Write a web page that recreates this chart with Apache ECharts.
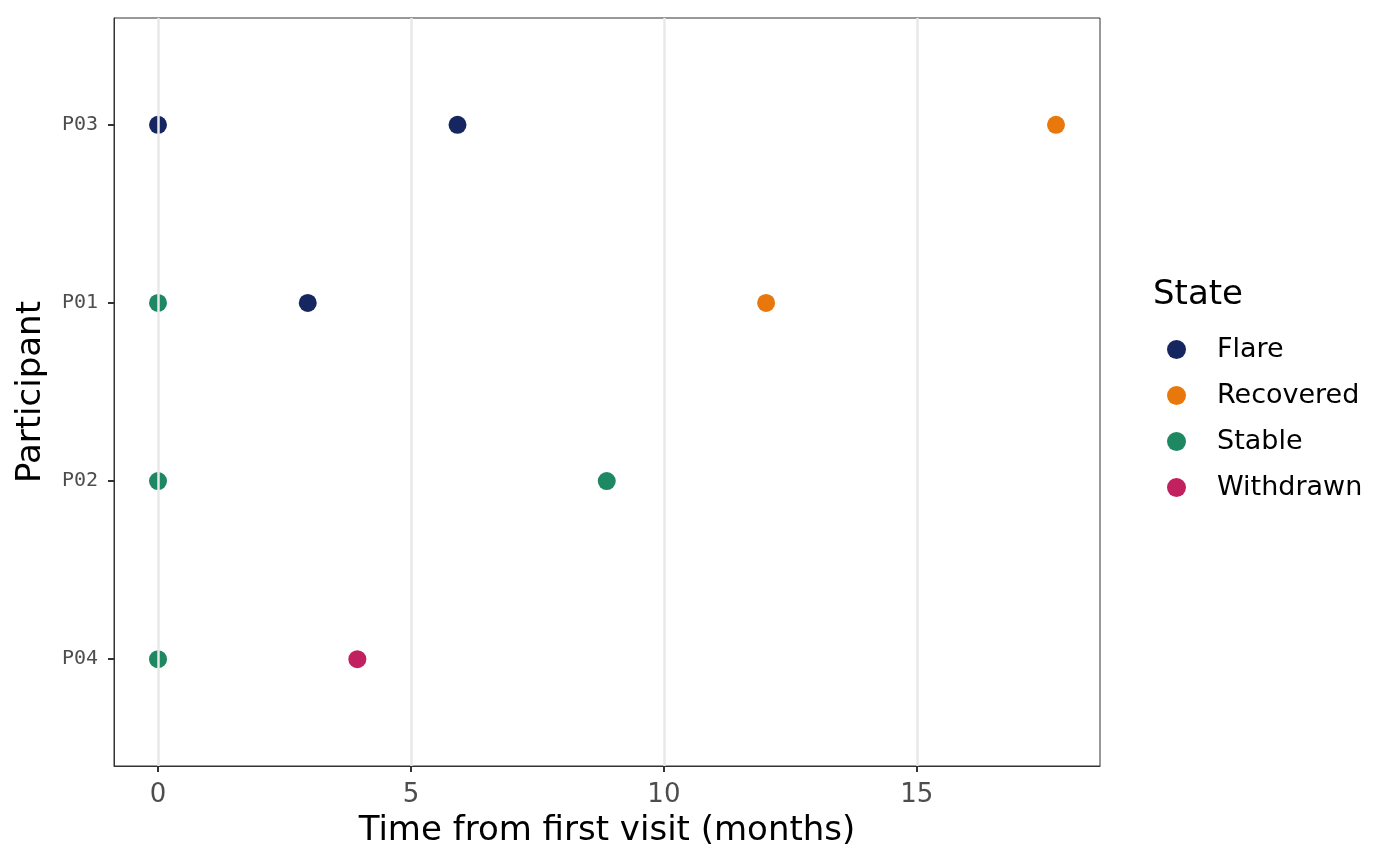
<!DOCTYPE html>
<html>
<head>
<meta charset="utf-8">
<script src="https://cdn.jsdelivr.net/npm/echarts@6/dist/echarts.min.js"></script>
<style>
  html, body { margin: 0; padding: 0; background: #fff; }
  #chart { width: 1400px; height: 866px; }
</style>
</head>
<body>
<div id="chart"></div>
<script>
// participants, bottom to top
const participants = ['P04', 'P02', 'P01', 'P03'];
const states = ['Flare', 'Recovered', 'Stable', 'Withdrawn'];
const stateColors = ['#162660', '#E8780B', '#1E8862', '#C2215F'];

// one visit per entry
const visitParticipant = ['P03', 'P03', 'P03', 'P01', 'P01', 'P01', 'P02', 'P02', 'P04', 'P04'];
const visitMonths = [0, 5.92, 17.75, 0, 2.96, 12.02, 0, 8.87, 0, 3.94];
const visitState = ['Flare', 'Flare', 'Recovered', 'Stable', 'Flare', 'Recovered', 'Stable', 'Stable', 'Stable', 'Withdrawn'];

const xTicks = [0, 5, 10, 15];
const yTicks = [0, 1, 2, 3];

const chart = echarts.init(document.getElementById('chart'));

const series = states.map((s, i) => ({
  name: s,
  type: 'scatter',
  symbolSize: 18,
  itemStyle: { color: stateColors[i], opacity: 1 },
  data: visitMonths
    .map((m, k) => visitState[k] === s ? [m, participants.indexOf(visitParticipant[k])] : null)
    .filter(d => d)
}));

// vertical grid lines
series.push({
  type: 'scatter',
  data: [],
  silent: true,
  z: 0,
  markLine: {
    symbol: 'none',
    silent: true,
    label: { show: false },
    lineStyle: { color: '#e8e8e8', width: 2.5, type: 'solid' },
    data: xTicks.map(v => ({ xAxis: v }))
  }
});

chart.setOption({
  backgroundColor: '#fff',
  animation: false,
  textStyle: { fontFamily: 'DejaVu Sans' },
  grid: {
    left: 114, right: 300, top: 18, bottom: 100,
    outerBoundsMode: 'none',
    containLabel: false,
    show: true, borderColor: '#333', borderWidth: 1, backgroundColor: 'transparent', z: 5
  },
  xAxis: {
    type: 'value',
    min: -0.87, max: 18.62,
    name: 'Time from first visit (months)',
    nameLocation: 'middle',
    nameGap: 48,
    nameTextStyle: { fontSize: 34, color: '#000', fontFamily: 'DejaVu Sans' },
    axisLine: { show: true, onZero: false, lineStyle: { color: '#333', width: 1 } },
    axisTick: { show: true, customValues: xTicks, length: 6, lineStyle: { color: '#333', width: 2 } },
    axisLabel: { customValues: xTicks, fontSize: 26, color: '#4d4d4d', margin: 16, fontFamily: 'DejaVu Sans' },
    splitLine: { show: false }
  },
  yAxis: {
    type: 'value',
    min: -0.6, max: 3.6,
    name: 'Participant',
    nameLocation: 'middle',
    nameGap: 66,
    nameTextStyle: { fontSize: 34, color: '#000', fontFamily: 'DejaVu Sans' },
    axisLine: { show: true, onZero: false, lineStyle: { color: '#333', width: 1 } },
    axisTick: { show: true, customValues: yTicks, length: 6, lineStyle: { color: '#333', width: 2 } },
    axisLabel: {
      customValues: yTicks, fontSize: 20, color: '#4d4d4d', margin: 16,
      fontFamily: 'DejaVu Sans Mono',
      formatter: v => participants[Math.round(v)]
    },
    splitLine: { show: false }
  },
  legend: {
    data: states,
    orient: 'vertical',
    left: 1162,
    top: 331,
    icon: 'circle',
    itemWidth: 19,
    itemHeight: 19,
    itemGap: 19,
    textStyle: { fontSize: 27, lineHeight: 19, color: '#000', fontFamily: 'DejaVu Sans', padding: [0, 0, 0, 26] }
  },
  graphic: [{
    type: 'text',
    left: 1153,
    top: 278,
    style: { text: 'State', fontSize: 34, fill: '#000', fontFamily: 'DejaVu Sans' }
  }],
  series: series
});
</script>
</body>
</html>
